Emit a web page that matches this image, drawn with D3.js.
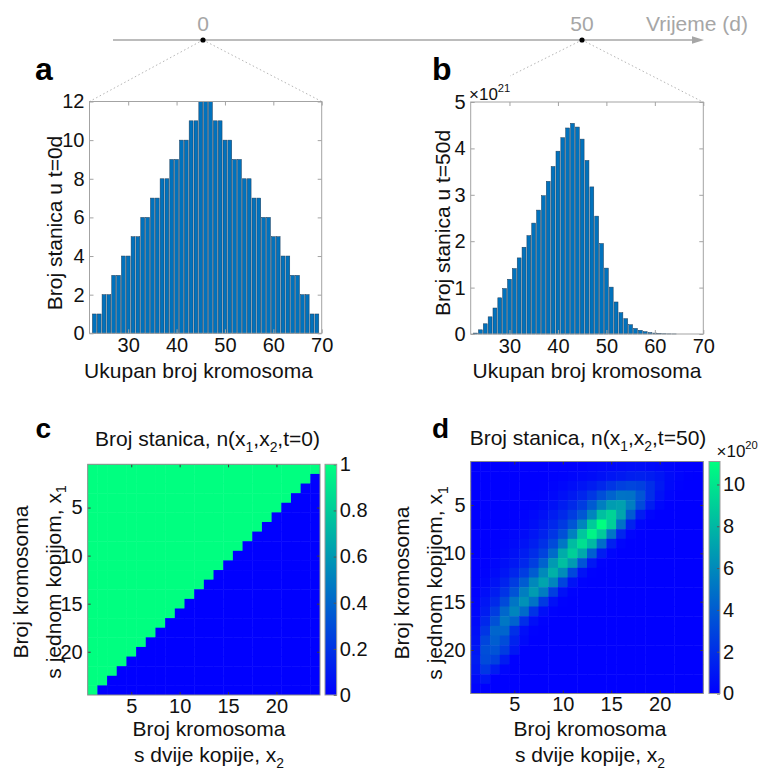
<!DOCTYPE html>
<html>
<head>
<meta charset="utf-8">
<script src="https://cdn.jsdelivr.net/npm/d3@7/dist/d3.min.js"></script>
<style>
  html,body{margin:0;padding:0;background:#fff;}
  svg{display:block;}
  text{font-family:"Liberation Sans",Arial,Helvetica,sans-serif;}
</style>
</head>
<body>
<svg id="fig" width="762" height="770"></svg>
<script>
// ---------------- data ----------------
const timeTicks = [0, 50];
const totals = [23,24,25,26,27,28,29,30,31,32,33,34,35,36,37,38,39,40,41,42,43,44,45,46,47,48,49,50,51,52,53,54,55,56,57,58,59,60,61,62,63,64,65,66,67,68,69];
const cellsT0 = [1,1,2,2,3,3,4,4,5,5,6,6,7,7,8,8,9,9,10,10,11,11,12,12,12,11,11,10,10,9,9,8,8,7,7,6,6,5,5,4,4,3,3,2,2,1,1];
// x 10^21
const cellsT50 = [0.02,0.09,0.22,0.37,0.56,0.78,0.98,1.18,1.41,1.64,1.87,2.12,2.39,2.67,2.98,3.29,3.61,3.94,4.23,4.44,4.54,4.46,4.20,3.74,3.17,2.54,1.95,1.42,1.01,0.69,0.46,0.33,0.20,0.12,0.08,0.05,0.03,0.02,0.01,0.005,0.002,0.001,0,0,0,0,0];
const histXTicks = [30,40,50,60,70];
const histAYTicks = [0,2,4,6,8,10,12];
const histBYTicks = [0,1,2,3,4,5];
const mapTicks = [5,10,15,20];
const cbarCTicks = [0,0.2,0.4,0.6,0.8,1];
const cbarDTicks = [0,2,4,6,8,10];
// n(x1,x2,t=0): rows x1 = 1..24 (top to bottom), columns x2 = 1..24
const mapT0 = [
"111111111111111111111111",
"111111111111111111111110",
"111111111111111111111100",
"111111111111111111111000",
"111111111111111111110000",
"111111111111111111100000",
"111111111111111111000000",
"111111111111111110000000",
"111111111111111100000000",
"111111111111111000000000",
"111111111111110000000000",
"111111111111100000000000",
"111111111111000000000000",
"111111111110000000000000",
"111111111100000000000000",
"111111111000000000000000",
"111111110000000000000000",
"111111100000000000000000",
"111111000000000000000000",
"111110000000000000000000",
"111100000000000000000000",
"111000000000000000000000",
"110000000000000000000000",
"100000000000000000000000"
];
// n(x1,x2,t=50) in units of 10^20
const mapT50 = [
[0,0,0,0,0,0,0,0,0,0,0.05,0.1,0.2,0.3,0.4,0.5,0.55,0.6,0.5,0.4,0.25,0.1,0.03,0],
[0,0,0,0,0,0,0,0,0.05,0.1,0.2,0.35,0.5,0.7,0.9,1.1,1.3,1.4,1.2,0.9,0.5,0.2,0.05,0],
[0,0,0,0,0,0,0,0.05,0.15,0.3,0.55,0.85,1.2,1.7,2.3,2.8,3.0,2.8,2.0,1.1,0.4,0.1,0,0],
[0,0,0,0,0,0,0.05,0.15,0.35,0.7,1.1,1.6,2.4,3.4,4.3,5.0,4.9,3.7,2.0,0.8,0.2,0,0,0],
[0,0,0,0,0,0.05,0.15,0.35,0.7,1.2,1.8,2.6,3.9,5.5,6.8,7.0,5.5,3.2,1.3,0.3,0,0,0,0],
[0,0,0,0,0.05,0.15,0.35,0.7,1.2,1.8,2.6,3.8,5.8,8.3,9.2,7.2,3.9,1.2,0.2,0,0,0,0,0],
[0,0,0,0.05,0.1,0.3,0.6,1.1,1.7,2.5,3.7,5.8,8.8,11.1,9.0,4.9,1.5,0.2,0,0,0,0,0,0],
[0,0,0,0.1,0.25,0.5,0.9,1.5,2.3,3.5,5.6,8.6,10.6,8.8,5.1,1.6,0.2,0,0,0,0,0,0,0],
[0,0,0.05,0.2,0.45,0.8,1.3,2.1,3.2,5.2,8.2,9.7,8.0,4.7,1.4,0.2,0,0,0,0,0,0,0,0],
[0,0,0.1,0.35,0.7,1.2,1.9,2.9,4.7,7.5,9.0,7.3,4.1,1.2,0.2,0,0,0,0,0,0,0,0,0],
[0,0.05,0.25,0.6,1.0,1.7,2.7,4.3,6.7,8.3,6.7,3.6,1.0,0.1,0,0,0,0,0,0,0,0,0,0],
[0,0.15,0.45,0.9,1.6,2.6,4.0,6.0,7.7,6.1,3.1,0.8,0.1,0,0,0,0,0,0,0,0,0,0,0],
[0.05,0.3,0.8,1.5,2.6,4.0,5.9,7.2,5.8,2.9,0.8,0.1,0,0,0,0,0,0,0,0,0,0,0,0],
[0.1,0.55,1.2,2.2,3.6,5.5,6.8,5.4,2.7,0.7,0.1,0,0,0,0,0,0,0,0,0,0,0,0,0],
[0.2,0.9,1.8,3.2,5.1,6.3,5.0,2.5,0.7,0.1,0,0,0,0,0,0,0,0,0,0,0,0,0,0],
[0.3,1.2,2.6,4.5,5.8,4.6,2.2,0.6,0.1,0,0,0,0,0,0,0,0,0,0,0,0,0,0,0],
[0.45,1.7,3.5,5.2,4.3,2.0,0.6,0.1,0,0,0,0,0,0,0,0,0,0,0,0,0,0,0,0],
[0.6,2.3,4.4,4.4,2.1,0.6,0.1,0,0,0,0,0,0,0,0,0,0,0,0,0,0,0,0,0],
[0.8,3.0,4.1,3.3,1.5,0.4,0,0,0,0,0,0,0,0,0,0,0,0,0,0,0,0,0,0],
[1.0,3.4,3.6,2.6,1.0,0,0,0,0,0,0,0,0,0,0,0,0,0,0,0,0,0,0,0],
[1.2,3.2,2.8,1.2,0,0,0,0,0,0,0,0,0,0,0,0,0,0,0,0,0,0,0,0],
[1.0,2.4,1.2,0.2,0,0,0,0,0,0,0,0,0,0,0,0,0,0,0,0,0,0,0,0],
[0.5,1.0,0,0,0,0,0,0,0,0,0,0,0,0,0,0,0,0,0,0,0,0,0,0],
[0.2,0,0,0,0,0,0,0,0,0,0,0,0,0,0,0,0,0,0,0,0,0,0,0]
];

// ---------------- style ----------------
const FONT = '"Liberation Sans", Arial, Helvetica, sans-serif';
const TXT = "#111";
const AXC = "#a3a3a3";
const TLC = "#a6a6a6";
const svg = d3.select("#fig");
const plainFmt = d => String(d);

function richText(g, x, y, parts, size, anchor, rotate, fill) {
  const t = g.append("text").attr("x", x).attr("y", y)
    .attr("text-anchor", anchor).attr("font-size", size)
    .attr("fill", fill || TXT).attr("font-family", FONT);
  if (rotate) t.attr("transform", `rotate(-90,${x},${y})`);
  let shift = 0;
  parts.forEach(p => {
    const s = t.append("tspan").text(p.t);
    const target = p.sub ? size * 0.28 : p.sup ? -size * 0.45 : 0;
    if (target !== shift) { s.attr("dy", target - shift); shift = target; }
    if (p.sub || p.sup) s.attr("font-size", size * 0.66);
  });
  return t;
}
function styleAxis(sel, size, lineColor) {
  sel.select(".domain").remove();
  sel.selectAll(".tick line").attr("stroke", lineColor).attr("stroke-width", 1);
  sel.selectAll(".tick text").attr("fill", TXT).attr("font-size", size).attr("font-family", FONT);
}

// ---------------- timeline ----------------
const tx = d3.scaleLinear().domain([0, 50]).range([203, 582]);
svg.append("line").attr("x1", 113).attr("y1", 40).attr("x2", 695).attr("y2", 40)
  .attr("stroke", TLC).attr("stroke-width", 1.4);
svg.append("path").attr("d", "M704,40 L692,36.2 L692,43.8 Z").attr("fill", TLC);
svg.selectAll("text.tt").data(timeTicks).join("text").attr("class", "tt")
  .attr("x", d => tx(d)).attr("y", 31).attr("text-anchor", "middle")
  .attr("font-size", 21).attr("font-family", FONT).attr("fill", TLC).text(d => d);
svg.append("text").attr("x", 646).attr("y", 31).attr("font-size", 21).attr("font-family", FONT)
  .attr("fill", TLC).text("Vrijeme (d)");
const connectors = [
  [tx(0), 40, 89.5, 101.5], [tx(0), 40, 321.7, 101.5],
  [tx(50), 40, 510, 76], [tx(50), 40, 703, 102]
];
svg.selectAll("line.conn").data(connectors).join("line").attr("class", "conn")
  .attr("x1", d => d[0]).attr("y1", d => d[1]).attr("x2", d => d[2]).attr("y2", d => d[3])
  .attr("stroke", "#b5b5b5").attr("stroke-width", 1).attr("stroke-dasharray", "1.5,2.5");
svg.selectAll("circle.td").data(timeTicks).join("circle").attr("class", "td")
  .attr("cx", d => tx(d)).attr("cy", 40).attr("r", 2.6).attr("fill", "#000");

// ---------------- histograms ----------------
function histogram(o) {
  const g = svg.append("g");
  const x = d3.scaleLinear().domain([22, 70]).range([o.left, o.right]);
  const y = d3.scaleLinear().domain([0, o.ymax]).range([o.bottom, o.top]);
  const bw = x(22.8) - x(22);
  const data = totals.map((t, i) => ({ t: t, v: o.values[i] })).filter(d => d.v > 0);
  g.append("g").selectAll("rect").data(data).join("rect")
    .attr("x", d => x(d.t) - bw / 2).attr("y", d => y(d.v))
    .attr("width", bw).attr("height", d => y(0) - y(d.v))
    .attr("fill", "#0072bd").attr("stroke", "#1f3c58").attr("stroke-width", 0.5);
  g.append("g").attr("transform", `translate(0,${o.bottom})`)
    .call(d3.axisBottom(x).tickValues(histXTicks).tickSize(-4).tickSizeOuter(0).tickPadding(5).tickFormat(plainFmt))
    .call(s => styleAxis(s, 20, AXC));
  g.append("g").attr("transform", `translate(0,${o.top})`)
    .call(d3.axisTop(x).tickValues(histXTicks).tickSize(-4).tickSizeOuter(0).tickFormat(""))
    .call(s => styleAxis(s, 20, AXC));
  g.append("g").attr("transform", `translate(${o.left},0)`)
    .call(d3.axisLeft(y).tickValues(o.yticks).tickSize(-4).tickSizeOuter(0).tickPadding(5).tickFormat(plainFmt))
    .call(s => styleAxis(s, 20, AXC));
  g.append("g").attr("transform", `translate(${o.right},0)`)
    .call(d3.axisRight(y).tickValues(o.yticks).tickSize(-4).tickSizeOuter(0).tickFormat(""))
    .call(s => styleAxis(s, 20, AXC));
  g.append("rect").attr("x", o.left).attr("y", o.top).attr("width", o.right - o.left)
    .attr("height", o.bottom - o.top).attr("fill", "none").attr("stroke", AXC).attr("stroke-width", 1);
  richText(g, o.xlabX, 378, [{ t: "Ukupan broj kromosoma" }], 21, "middle");
  richText(g, o.ylabX, 223, [{ t: o.ylabel }], 21, "middle", true);
  return g;
}
histogram({ left: 89.5, right: 321.7, top: 101.5, bottom: 333.3, ymax: 12, values: cellsT0,
  yticks: histAYTicks, xlabX: 198.5, ylabX: 62, ylabel: "Broj stanica u t=0d" });
const gb = histogram({ left: 470.7, right: 703.3, top: 102, bottom: 334, ymax: 5, values: cellsT50,
  yticks: histBYTicks, xlabX: 587, ylabX: 449.5, ylabel: "Broj stanica u t=50d" });
richText(gb, 469, 100, [{ t: "\u00d710" }, { t: "21", sup: true }], 17, "start");

// ---------------- heat maps ----------------
function heatmap(o) {
  const g = svg.append("g");
  const x = d3.scaleLinear().domain([0.5, 24.5]).range([o.left, o.right]);
  const y = d3.scaleLinear().domain([0.5, 24.5]).range([o.top, o.bottom]);
  const vmax = d3.max(o.values.flat());
  const color = d3.scaleLinear().domain([0, vmax]).range(["#0000ff", "#00ff80"]);
  const cells = [];
  o.values.forEach((row, ri) => row.forEach((v, ci) => cells.push({ r: ri + 1, c: ci + 1, v: v })));
  const cw = x(1.5) - x(0.5), chh = y(1.5) - y(0.5);
  g.append("g").selectAll("rect").data(cells).join("rect")
    .attr("x", d => x(d.c - 0.5)).attr("y", d => y(d.r - 0.5))
    .attr("width", d => d.c === 24 ? cw : cw + 0.5).attr("height", d => d.r === 24 ? chh : chh + 0.5)
    .attr("fill", d => color(d.v));
  const tickC = "#3a3a3a";
  g.append("g").attr("transform", `translate(0,${o.bottom})`)
    .call(d3.axisBottom(x).tickValues(mapTicks).tickSize(-3).tickSizeOuter(0).tickPadding(o.xpad).tickFormat(plainFmt))
    .call(s => styleAxis(s, 20, tickC));
  g.append("g").attr("transform", `translate(0,${o.top})`)
    .call(d3.axisTop(x).tickValues(mapTicks).tickSize(-3).tickSizeOuter(0).tickFormat(""))
    .call(s => styleAxis(s, 20, tickC));
  g.append("g").attr("transform", `translate(${o.left},0)`)
    .call(d3.axisLeft(y).tickValues(mapTicks).tickSize(-3).tickSizeOuter(0).tickPadding(5).tickFormat(plainFmt))
    .call(s => styleAxis(s, 20, tickC));
  g.append("g").attr("transform", `translate(${o.right},0)`)
    .call(d3.axisRight(y).tickValues(mapTicks).tickSize(-3).tickSizeOuter(0).tickFormat(""))
    .call(s => styleAxis(s, 20, tickC));
  g.append("rect").attr("x", o.left).attr("y", o.top).attr("width", o.right - o.left)
    .attr("height", o.bottom - o.top).attr("fill", "none").attr("stroke", "#8a8a8a").attr("stroke-width", 1);

  // colorbar
  const gid = "grad" + o.id;
  const lg = svg.append("defs").append("linearGradient").attr("id", gid)
    .attr("x1", 0).attr("y1", 1).attr("x2", 0).attr("y2", 0);
  lg.append("stop").attr("offset", 0).attr("stop-color", color(0));
  lg.append("stop").attr("offset", 1).attr("stop-color", color(vmax));
  g.append("rect").attr("x", o.cbL).attr("y", o.top).attr("width", o.cbR - o.cbL)
    .attr("height", o.bottom - o.top).attr("fill", `url(#${gid})`);
  const cy = d3.scaleLinear().domain([0, vmax]).range([o.bottom, o.top]);
  g.append("g").attr("transform", `translate(${o.cbR},0)`)
    .call(d3.axisRight(cy).tickValues(o.cbTicks).tickSize(-3).tickSizeOuter(0).tickPadding(3)
      .tickFormat(plainFmt))
    .call(s => styleAxis(s, 20, "#555"));
  g.append("rect").attr("x", o.cbL).attr("y", o.top).attr("width", o.cbR - o.cbL)
    .attr("height", o.bottom - o.top).attr("fill", "none").attr("stroke", "#9a9a9a").attr("stroke-width", 1);

  // labels
  richText(g, o.titleX, o.titleY, [{ t: "Broj stanica, n(x" }, { t: "1", sub: true }, { t: ",x" },
    { t: "2", sub: true }, { t: o.tlabel }], 21, "middle");
  richText(g, o.xlabX, o.xlab1Y, [{ t: "Broj kromosoma" }], 21, "middle");
  richText(g, o.xlabX, 762, [{ t: "s dvije kopije, x" }, { t: "2", sub: true }], 21, "middle");
  richText(g, o.ylab1X, o.ylabY, [{ t: "Broj kromosoma" }], 21, "middle", true);
  richText(g, o.ylab2X, o.ylabY, [{ t: "s jednom kopijom, x" }, { t: "1", sub: true }], 21, "middle", true);
  return g;
}
heatmap({ id: "c", left: 87.7, right: 320, top: 464.3, bottom: 695,
  values: mapT0.map(s => s.split("").map(Number)),
  cbL: 325, cbR: 336.7, cbTicks: cbarCTicks,
  xpad: 4, titleX: 207.5, titleY: 446, tlabel: ",t=0)",
  xlabX: 209, xlab1Y: 736, ylab1X: 28, ylab2X: 60.5, ylabY: 582 });
const gd = heatmap({ id: "d", left: 470.7, right: 703.3, top: 461.5, bottom: 693.5,
  values: mapT50,
  cbL: 709, cbR: 720, cbTicks: cbarDTicks,
  xpad: 3, titleX: 588, titleY: 445, tlabel: ",t=50)",
  xlabX: 590, xlab1Y: 736, ylab1X: 408.5, ylab2X: 442, ylabY: 583 });
richText(gd, 716.5, 457, [{ t: "\u00d710" }, { t: "20", sup: true }], 17, "start");

// ---------------- panel letters ----------------
const letters = [
  { t: "a", x: 35, y: 80, s: 32 }, { t: "b", x: 432, y: 80, s: 32 },
  { t: "c", x: 35.5, y: 438, s: 28 }, { t: "d", x: 432, y: 438, s: 28 }
];
svg.selectAll("text.pl").data(letters).join("text").attr("class", "pl")
  .attr("x", d => d.x).attr("y", d => d.y).attr("font-size", d => d.s)
  .attr("font-weight", "bold").attr("font-family", FONT).attr("fill", "#000").text(d => d.t);
</script>
</body>
</html>
